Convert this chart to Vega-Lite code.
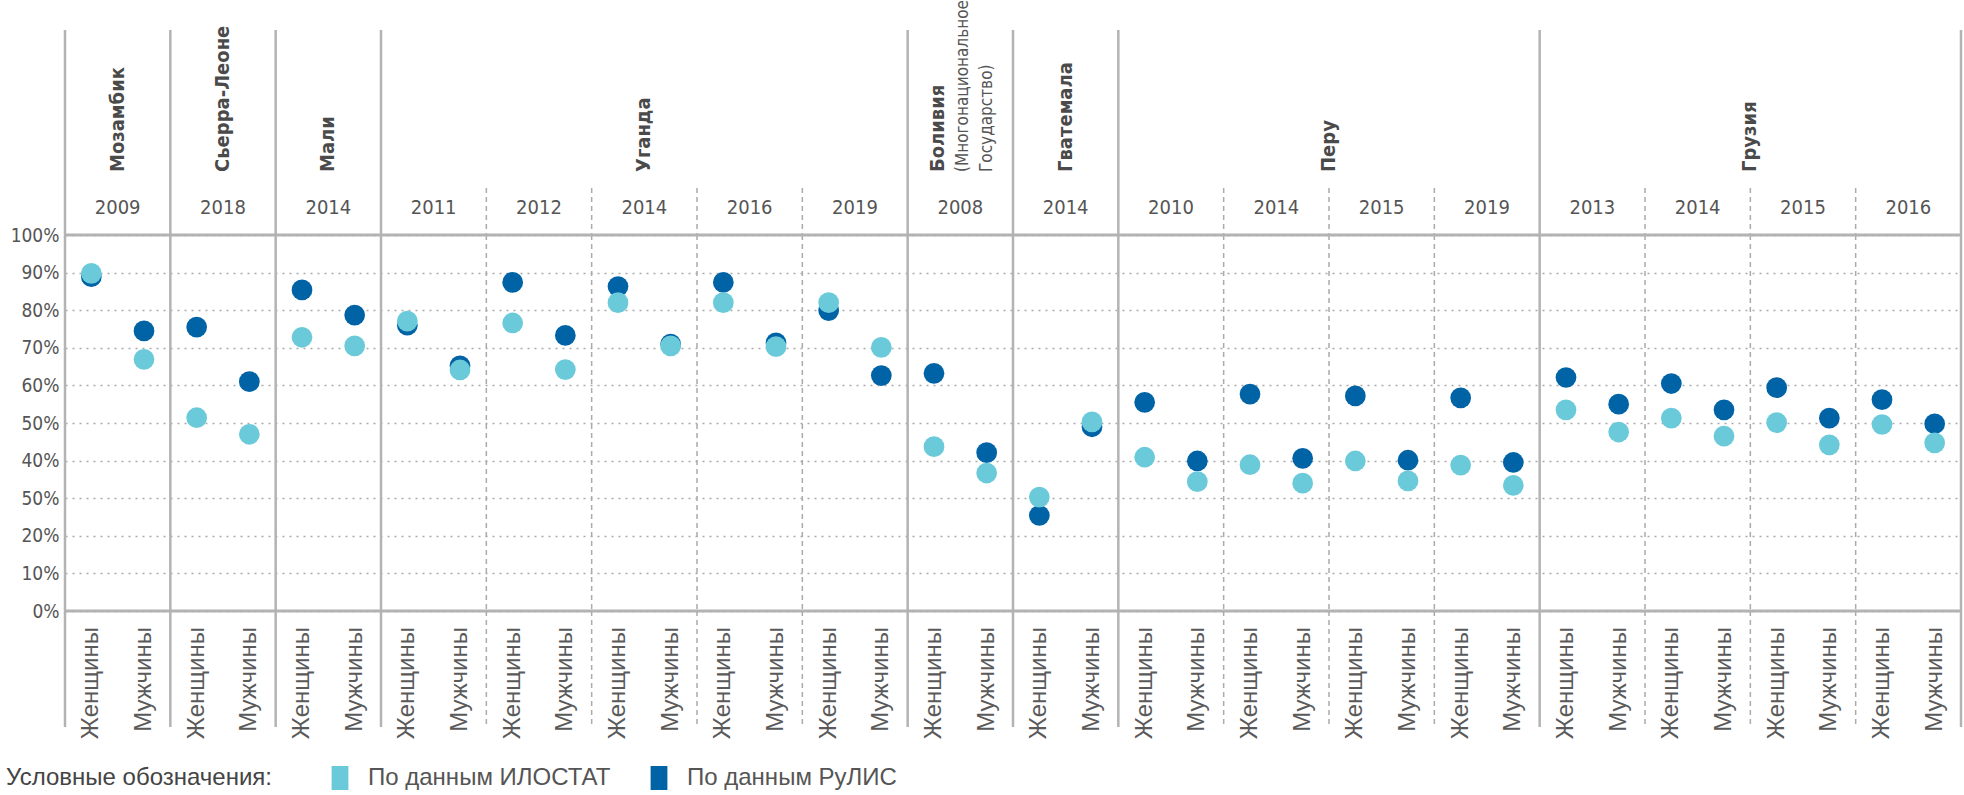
{
  "$schema": "https://vega.github.io/schema/vega-lite/v6.json",
  "padding": {"left": 6, "top": 0, "right": 0, "bottom": 0},
  "background": "white",
  "spacing": 0,
  "bounds": "flush",
  "config": {"view": {"stroke": null}, "font": "DejaVu Sans Condensed, Liberation Sans, sans-serif"},
  "datasets": {
    "pts": [
      {"k": "Мозамбик 2009 Женщины", "s": "Женщины", "ilo": 89.8, "rulis": 88.9},
      {"k": "Мозамбик 2009 Мужчины", "s": "Мужчины", "ilo": 66.9, "rulis": 74.5},
      {"k": "Сьерра-Леоне 2018 Женщины", "s": "Женщины", "ilo": 51.4, "rulis": 75.5},
      {"k": "Сьерра-Леоне 2018 Мужчины", "s": "Мужчины", "ilo": 47.0, "rulis": 61.0},
      {"k": "Мали 2014 Женщины", "s": "Женщины", "ilo": 72.8, "rulis": 85.4},
      {"k": "Мали 2014 Мужчины", "s": "Мужчины", "ilo": 70.5, "rulis": 78.7},
      {"k": "Уганда 2011 Женщины", "s": "Женщины", "ilo": 77.1, "rulis": 76.0},
      {"k": "Уганда 2011 Мужчины", "s": "Мужчины", "ilo": 64.1, "rulis": 65.2},
      {"k": "Уганда 2012 Женщины", "s": "Женщины", "ilo": 76.6, "rulis": 87.4},
      {"k": "Уганда 2012 Мужчины", "s": "Мужчины", "ilo": 64.2, "rulis": 73.3},
      {"k": "Уганда 2014 Женщины", "s": "Женщины", "ilo": 82.0, "rulis": 86.3},
      {"k": "Уганда 2014 Мужчины", "s": "Мужчины", "ilo": 70.5, "rulis": 71.0},
      {"k": "Уганда 2016 Женщины", "s": "Женщины", "ilo": 82.0, "rulis": 87.4},
      {"k": "Уганда 2016 Мужчины", "s": "Мужчины", "ilo": 70.3, "rulis": 71.3},
      {"k": "Уганда 2019 Женщины", "s": "Женщины", "ilo": 82.0, "rulis": 79.9},
      {"k": "Уганда 2019 Мужчины", "s": "Мужчины", "ilo": 70.1, "rulis": 62.6},
      {"k": "Боливия 2008 Женщины", "s": "Женщины", "ilo": 43.7, "rulis": 63.2},
      {"k": "Боливия 2008 Мужчины", "s": "Мужчины", "ilo": 36.7, "rulis": 42.1},
      {"k": "Гватемала 2014 Женщины", "s": "Женщины", "ilo": 30.3, "rulis": 25.4},
      {"k": "Гватемала 2014 Мужчины", "s": "Мужчины", "ilo": 50.3, "rulis": 49.0},
      {"k": "Перу 2010 Женщины", "s": "Женщины", "ilo": 40.9, "rulis": 55.5},
      {"k": "Перу 2010 Мужчины", "s": "Мужчины", "ilo": 34.4, "rulis": 39.9},
      {"k": "Перу 2014 Женщины", "s": "Женщины", "ilo": 38.9, "rulis": 57.7},
      {"k": "Перу 2014 Мужчины", "s": "Мужчины", "ilo": 34.0, "rulis": 40.6},
      {"k": "Перу 2015 Женщины", "s": "Женщины", "ilo": 39.9, "rulis": 57.2},
      {"k": "Перу 2015 Мужчины", "s": "Мужчины", "ilo": 34.6, "rulis": 40.1},
      {"k": "Перу 2019 Женщины", "s": "Женщины", "ilo": 38.8, "rulis": 56.7},
      {"k": "Перу 2019 Мужчины", "s": "Мужчины", "ilo": 33.4, "rulis": 39.5},
      {"k": "Грузия 2013 Женщины", "s": "Женщины", "ilo": 53.5, "rulis": 62.1},
      {"k": "Грузия 2013 Мужчины", "s": "Мужчины", "ilo": 47.6, "rulis": 55.0},
      {"k": "Грузия 2014 Женщины", "s": "Женщины", "ilo": 51.3, "rulis": 60.5},
      {"k": "Грузия 2014 Мужчины", "s": "Мужчины", "ilo": 46.5, "rulis": 53.5},
      {"k": "Грузия 2015 Женщины", "s": "Женщины", "ilo": 50.1, "rulis": 59.4},
      {"k": "Грузия 2015 Мужчины", "s": "Мужчины", "ilo": 44.2, "rulis": 51.3},
      {"k": "Грузия 2016 Женщины", "s": "Женщины", "ilo": 49.6, "rulis": 56.2},
      {"k": "Грузия 2016 Мужчины", "s": "Мужчины", "ilo": 44.7, "rulis": 49.8}
    ],
    "groups": [
      {"k": "Мозамбик 2009 Женщины", "year": "2009", "first": true},
      {"k": "Сьерра-Леоне 2018 Женщины", "year": "2018", "first": true},
      {"k": "Мали 2014 Женщины", "year": "2014", "first": true},
      {"k": "Уганда 2011 Женщины", "year": "2011", "first": true},
      {"k": "Уганда 2012 Женщины", "year": "2012", "first": false},
      {"k": "Уганда 2014 Женщины", "year": "2014", "first": false},
      {"k": "Уганда 2016 Женщины", "year": "2016", "first": false},
      {"k": "Уганда 2019 Женщины", "year": "2019", "first": false},
      {"k": "Боливия 2008 Женщины", "year": "2008", "first": true},
      {"k": "Гватемала 2014 Женщины", "year": "2014", "first": true},
      {"k": "Перу 2010 Женщины", "year": "2010", "first": true},
      {"k": "Перу 2014 Женщины", "year": "2014", "first": false},
      {"k": "Перу 2015 Женщины", "year": "2015", "first": false},
      {"k": "Перу 2019 Женщины", "year": "2019", "first": false},
      {"k": "Грузия 2013 Женщины", "year": "2013", "first": true},
      {"k": "Грузия 2014 Женщины", "year": "2014", "first": false},
      {"k": "Грузия 2015 Женщины", "year": "2015", "first": false},
      {"k": "Грузия 2016 Женщины", "year": "2016", "first": false}
    ],
    "countries": [
      {"k": "Мозамбик 2009 Женщины", "name": "Мозамбик"},
      {"k": "Сьерра-Леоне 2018 Женщины", "name": "Сьерра-Леоне"},
      {"k": "Мали 2014 Женщины", "name": "Мали"},
      {"k": "Уганда 2014 Женщины", "name": "Уганда"},
      {"k": "Боливия 2008 Женщины", "name": "Боливия", "sub": "(Многонациональное\nГосударство)"},
      {"k": "Гватемала 2014 Женщины", "name": "Гватемала"},
      {"k": "Перу 2014 Мужчины", "name": "Перу"},
      {"k": "Грузия 2014 Мужчины", "name": "Грузия"}
    ]
  },
  "vconcat": [
    {
      "width": 1896, "height": 158,
      "layer": [
        {
          "data": {"name": "groups"},
          "transform": [{"filter": "datum.first"}],
          "mark": {"type": "rule", "color": "#b3b3b3", "strokeWidth": 2.5},
          "encoding": {"x": {"field": "k", "type": "nominal", "bandPosition": 0, "axis": null,
            "scale": {"type": "band", "paddingInner": 0, "paddingOuter": 0, "domain": ["Мозамбик 2009 Женщины","Мозамбик 2009 Мужчины","Сьерра-Леоне 2018 Женщины","Сьерра-Леоне 2018 Мужчины","Мали 2014 Женщины","Мали 2014 Мужчины","Уганда 2011 Женщины","Уганда 2011 Мужчины","Уганда 2012 Женщины","Уганда 2012 Мужчины","Уганда 2014 Женщины","Уганда 2014 Мужчины","Уганда 2016 Женщины","Уганда 2016 Мужчины","Уганда 2019 Женщины","Уганда 2019 Мужчины","Боливия 2008 Женщины","Боливия 2008 Мужчины","Гватемала 2014 Женщины","Гватемала 2014 Мужчины","Перу 2010 Женщины","Перу 2010 Мужчины","Перу 2014 Женщины","Перу 2014 Мужчины","Перу 2015 Женщины","Перу 2015 Мужчины","Перу 2019 Женщины","Перу 2019 Мужчины","Грузия 2013 Женщины","Грузия 2013 Мужчины","Грузия 2014 Женщины","Грузия 2014 Мужчины","Грузия 2015 Женщины","Грузия 2015 Мужчины","Грузия 2016 Женщины","Грузия 2016 Мужчины"]}}}
        },
        {
          "data": {"values": [{}]},
          "mark": {"type": "rule", "color": "#b3b3b3", "strokeWidth": 2.5},
          "encoding": {"x": {"datum": "Грузия 2016 Мужчины", "type": "nominal", "bandPosition": 1, "axis": null}}
        },
        {
          "data": {"name": "countries"},
          "transform": [{"filter": "datum.name != 'Боливия'"}],
          "mark": {"type": "text", "angle": 270, "align": "left", "baseline": "middle", "dx": -63, "font": "DejaVu Sans Condensed, Liberation Sans, sans-serif", "fontWeight": "bold", "fontSize": 20, "color": "#4a4a4a"},
          "encoding": {"x": {"field": "k", "type": "nominal", "bandPosition": 1, "axis": null}, "text": {"field": "name"}}
        },
        {
          "data": {"name": "countries"},
          "transform": [{"filter": "datum.name == 'Боливия'"}],
          "mark": {"type": "text", "angle": 270, "align": "left", "baseline": "middle", "dx": -63, "dy": -22, "font": "DejaVu Sans Condensed, Liberation Sans, sans-serif", "fontWeight": "bold", "fontSize": 20, "color": "#4a4a4a"},
          "encoding": {"x": {"field": "k", "type": "nominal", "bandPosition": 1, "axis": null}, "text": {"field": "name"}}
        },
        {
          "data": {"name": "countries"},
          "transform": [{"filter": "datum.sub"}],
          "mark": {"type": "text", "angle": 270, "align": "left", "baseline": "middle", "dx": -63, "dy": 3, "lineBreak": "\n", "lineHeight": 24, "font": "DejaVu Sans Condensed, Liberation Sans, sans-serif", "fontSize": 17, "color": "#555555"},
          "encoding": {"x": {"field": "k", "type": "nominal", "bandPosition": 1, "axis": null}, "text": {"field": "sub"}}
        }
      ]
    },
    {
      "width": 1896, "height": 47,
      "layer": [
        {
          "data": {"name": "groups"},
          "transform": [{"filter": "datum.first"}],
          "mark": {"type": "rule", "color": "#b3b3b3", "strokeWidth": 2.5},
          "encoding": {"x": {"field": "k", "type": "nominal", "bandPosition": 0, "axis": null,
            "scale": {"type": "band", "paddingInner": 0, "paddingOuter": 0, "domain": ["Мозамбик 2009 Женщины","Мозамбик 2009 Мужчины","Сьерра-Леоне 2018 Женщины","Сьерра-Леоне 2018 Мужчины","Мали 2014 Женщины","Мали 2014 Мужчины","Уганда 2011 Женщины","Уганда 2011 Мужчины","Уганда 2012 Женщины","Уганда 2012 Мужчины","Уганда 2014 Женщины","Уганда 2014 Мужчины","Уганда 2016 Женщины","Уганда 2016 Мужчины","Уганда 2019 Женщины","Уганда 2019 Мужчины","Боливия 2008 Женщины","Боливия 2008 Мужчины","Гватемала 2014 Женщины","Гватемала 2014 Мужчины","Перу 2010 Женщины","Перу 2010 Мужчины","Перу 2014 Женщины","Перу 2014 Мужчины","Перу 2015 Женщины","Перу 2015 Мужчины","Перу 2019 Женщины","Перу 2019 Мужчины","Грузия 2013 Женщины","Грузия 2013 Мужчины","Грузия 2014 Женщины","Грузия 2014 Мужчины","Грузия 2015 Женщины","Грузия 2015 Мужчины","Грузия 2016 Женщины","Грузия 2016 Мужчины"]}}}
        },
        {
          "data": {"name": "groups"},
          "transform": [{"filter": "!datum.first"}],
          "mark": {"type": "rule", "color": "#aaaaaa", "strokeWidth": 1.5, "strokeDash": [5, 4]},
          "encoding": {"x": {"field": "k", "type": "nominal", "bandPosition": 0, "axis": null}}
        },
        {
          "data": {"values": [{}]},
          "mark": {"type": "rule", "color": "#b3b3b3", "strokeWidth": 2.5},
          "encoding": {"x": {"datum": "Грузия 2016 Мужчины", "type": "nominal", "bandPosition": 1, "axis": null}}
        },
        {
          "data": {"name": "groups"},
          "mark": {"type": "text", "align": "center", "baseline": "middle", "dy": -4, "font": "DejaVu Sans Condensed, Liberation Sans, sans-serif", "fontSize": 20, "color": "#555555"},
          "encoding": {"x": {"field": "k", "type": "nominal", "bandPosition": 1, "axis": null}, "text": {"field": "year"}}
        }
      ]
    },
    {
      "width": 1896, "height": 376,
      "layer": [
        {
          "data": {"name": "groups"},
          "transform": [{"filter": "datum.first"}],
          "mark": {"type": "rule", "color": "#b3b3b3", "strokeWidth": 2.5},
          "encoding": {"x": {"field": "k", "type": "nominal", "bandPosition": 0, "axis": null,
            "scale": {"type": "band", "paddingInner": 0, "paddingOuter": 0, "domain": ["Мозамбик 2009 Женщины","Мозамбик 2009 Мужчины","Сьерра-Леоне 2018 Женщины","Сьерра-Леоне 2018 Мужчины","Мали 2014 Женщины","Мали 2014 Мужчины","Уганда 2011 Женщины","Уганда 2011 Мужчины","Уганда 2012 Женщины","Уганда 2012 Мужчины","Уганда 2014 Женщины","Уганда 2014 Мужчины","Уганда 2016 Женщины","Уганда 2016 Мужчины","Уганда 2019 Женщины","Уганда 2019 Мужчины","Боливия 2008 Женщины","Боливия 2008 Мужчины","Гватемала 2014 Женщины","Гватемала 2014 Мужчины","Перу 2010 Женщины","Перу 2010 Мужчины","Перу 2014 Женщины","Перу 2014 Мужчины","Перу 2015 Женщины","Перу 2015 Мужчины","Перу 2019 Женщины","Перу 2019 Мужчины","Грузия 2013 Женщины","Грузия 2013 Мужчины","Грузия 2014 Женщины","Грузия 2014 Мужчины","Грузия 2015 Женщины","Грузия 2015 Мужчины","Грузия 2016 Женщины","Грузия 2016 Мужчины"]}}}
        },
        {
          "data": {"name": "groups"},
          "transform": [{"filter": "!datum.first"}],
          "mark": {"type": "rule", "color": "#aaaaaa", "strokeWidth": 1.5, "strokeDash": [5, 4]},
          "encoding": {"x": {"field": "k", "type": "nominal", "bandPosition": 0, "axis": null}}
        },
        {
          "data": {"values": [{}]},
          "mark": {"type": "rule", "color": "#b3b3b3", "strokeWidth": 2.5},
          "encoding": {"x": {"datum": "Грузия 2016 Мужчины", "type": "nominal", "bandPosition": 1, "axis": null}}
        },
        {
          "data": {"name": "pts"},
          "mark": {"type": "circle", "size": 430, "opacity": 1},
          "encoding": {
            "x": {"field": "k", "type": "nominal", "axis": null},
            "y": {"field": "rulis", "type": "quantitative", "title": null,
              "scale": {"domain": [0, 100], "nice": false},
              "axis": {"values": [0, 10, 20, 30, 40, 50, 60, 70, 80, 90, 100], "tickCount": 11, "labelExpr": "datum.value == 30 ? '50%' : datum.value + '%'", "labelOverlap": false, "labelFlush": false, "domain": false, "ticks": false, "labelPadding": 6, "labelFont": "DejaVu Sans Condensed, Liberation Sans, sans-serif", "labelFontSize": 19, "labelColor": "#555555", "grid": true, "gridColor": "#aaaaaa", "gridDash": [2, 5], "gridWidth": 1.5}},
            "color": {"datum": "По данным РуЛИС", "type": "nominal",
              "scale": {"domain": ["По данным ИЛОСТАТ", "По данным РуЛИС"], "range": ["#6BCAD9", "#0063A6"]},
              "legend": {"orient": "none", "legendX": -59, "legendY": 736, "direction": "horizontal", "title": "Условные обозначения:", "titleOrient": "left", "titleFont": "Liberation Sans", "titleFontSize": 24, "titleFontWeight": "normal", "titleColor": "#444444", "titlePadding": 56, "titleLimit": 0, "labelLimit": 0, "labelFont": "Liberation Sans", "labelFontSize": 24, "labelColor": "#555555", "labelOffset": 16, "columnPadding": 36, "symbolType": "M-0.7,-1H0.7V1H-0.7Z", "symbolSize": 576, "symbolStrokeWidth": 0, "symbolOpacity": 1}}
          }
        },
        {
          "data": {"name": "pts"},
          "mark": {"type": "circle", "size": 430, "opacity": 1},
          "encoding": {
            "x": {"field": "k", "type": "nominal", "axis": null},
            "y": {"field": "ilo", "type": "quantitative", "title": null,
              "axis": {"values": [0, 10, 20, 30, 40, 50, 60, 70, 80, 90, 100], "tickCount": 11, "labelExpr": "datum.value == 30 ? '50%' : datum.value + '%'", "labelOverlap": false, "labelFlush": false, "domain": false, "ticks": false, "labelPadding": 6, "labelFont": "DejaVu Sans Condensed, Liberation Sans, sans-serif", "labelFontSize": 19, "labelColor": "#555555", "grid": true, "gridColor": "#aaaaaa", "gridDash": [2, 5], "gridWidth": 1.5}},
            "color": {"datum": "По данным ИЛОСТАТ", "type": "nominal"}
          }
        },
        {
          "data": {"values": [{}]},
          "mark": {"type": "rule", "color": "#b3b3b3", "strokeWidth": 3},
          "encoding": {"y": {"datum": 100, "type": "quantitative", "title": null,
            "axis": {"values": [0, 10, 20, 30, 40, 50, 60, 70, 80, 90, 100], "tickCount": 11, "labelExpr": "datum.value == 30 ? '50%' : datum.value + '%'", "labelOverlap": false, "labelFlush": false, "domain": false, "ticks": false, "labelPadding": 6, "labelFont": "DejaVu Sans Condensed, Liberation Sans, sans-serif", "labelFontSize": 19, "labelColor": "#555555", "grid": true, "gridColor": "#aaaaaa", "gridDash": [2, 5], "gridWidth": 1.5}}}
        },
        {
          "data": {"values": [{}]},
          "mark": {"type": "rule", "color": "#b3b3b3", "strokeWidth": 3},
          "encoding": {"y": {"datum": 0, "type": "quantitative", "title": null,
            "axis": {"values": [0, 10, 20, 30, 40, 50, 60, 70, 80, 90, 100], "tickCount": 11, "labelExpr": "datum.value == 30 ? '50%' : datum.value + '%'", "labelOverlap": false, "labelFlush": false, "domain": false, "ticks": false, "labelPadding": 6, "labelFont": "DejaVu Sans Condensed, Liberation Sans, sans-serif", "labelFontSize": 19, "labelColor": "#555555", "grid": true, "gridColor": "#aaaaaa", "gridDash": [2, 5], "gridWidth": 1.5}}}
        }
      ]
    },
    {
      "width": 1896, "height": 116,
      "layer": [
        {
          "data": {"name": "groups"},
          "transform": [{"filter": "datum.first"}],
          "mark": {"type": "rule", "color": "#b3b3b3", "strokeWidth": 2.5},
          "encoding": {"x": {"field": "k", "type": "nominal", "bandPosition": 0, "axis": null,
            "scale": {"type": "band", "paddingInner": 0, "paddingOuter": 0, "domain": ["Мозамбик 2009 Женщины","Мозамбик 2009 Мужчины","Сьерра-Леоне 2018 Женщины","Сьерра-Леоне 2018 Мужчины","Мали 2014 Женщины","Мали 2014 Мужчины","Уганда 2011 Женщины","Уганда 2011 Мужчины","Уганда 2012 Женщины","Уганда 2012 Мужчины","Уганда 2014 Женщины","Уганда 2014 Мужчины","Уганда 2016 Женщины","Уганда 2016 Мужчины","Уганда 2019 Женщины","Уганда 2019 Мужчины","Боливия 2008 Женщины","Боливия 2008 Мужчины","Гватемала 2014 Женщины","Гватемала 2014 Мужчины","Перу 2010 Женщины","Перу 2010 Мужчины","Перу 2014 Женщины","Перу 2014 Мужчины","Перу 2015 Женщины","Перу 2015 Мужчины","Перу 2019 Женщины","Перу 2019 Мужчины","Грузия 2013 Женщины","Грузия 2013 Мужчины","Грузия 2014 Женщины","Грузия 2014 Мужчины","Грузия 2015 Женщины","Грузия 2015 Мужчины","Грузия 2016 Женщины","Грузия 2016 Мужчины"]}}}
        },
        {
          "data": {"name": "groups"},
          "transform": [{"filter": "!datum.first"}],
          "mark": {"type": "rule", "color": "#aaaaaa", "strokeWidth": 1.5, "strokeDash": [5, 4]},
          "encoding": {"x": {"field": "k", "type": "nominal", "bandPosition": 0, "axis": null}}
        },
        {
          "data": {"values": [{}]},
          "mark": {"type": "rule", "color": "#b3b3b3", "strokeWidth": 2.5},
          "encoding": {"x": {"datum": "Грузия 2016 Мужчины", "type": "nominal", "bandPosition": 1, "axis": null}}
        },
        {
          "data": {"name": "pts"},
          "mark": {"type": "text", "angle": 270, "align": "right", "baseline": "middle", "dx": 42, "font": "Liberation Sans", "fontSize": 24, "color": "#5a5a5a"},
          "encoding": {"x": {"field": "k", "type": "nominal", "axis": null}, "text": {"field": "s"}}
        }
      ]
    }
  ]
}
